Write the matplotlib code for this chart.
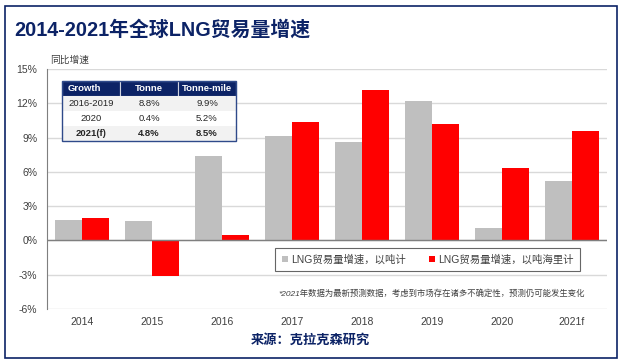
import matplotlib
matplotlib.use('Agg')
import matplotlib.pyplot as plt
import matplotlib.patches as mpatches
import numpy as np

plt.rcParams['font.family'] = ['Liberation Sans', 'Noto Sans CJK SC']

years = ['2014', '2015', '2016', '2017', '2018', '2019', '2020', '2021f']
tonne = [1.8, 1.7, 7.4, 9.1, 8.6, 12.2, 1.05, 5.2]
tonne_mile = [2.0, -3.1, 0.5, 10.4, 13.2, 10.2, 6.3, 9.6]
yticks = [-6, -3, 0, 3, 6, 9, 12, 15]

table_cols = ['Growth', 'Tonne', 'Tonne-mile']
table_rows = [['2016-2019', '8.8%', '9.9%'],
              ['2020', '0.4%', '5.2%'],
              ['2021(f)', '4.8%', '8.5%']]

navy = '#0c2366'
gray = '#bfbfbf'
red = '#ff0000'

W, H = 624, 363
fig = plt.figure(figsize=(W / 100, H / 100), dpi=100)
fig.patch.set_facecolor('white')

# outer frame
fig.add_artist(mpatches.Rectangle((5 / W, 5 / H), 612 / W, 352 / H, transform=fig.transFigure,
                                  fill=False, edgecolor=navy, linewidth=1.2))

fig.text(14 / W, 1 - 30 / H, '2014-2021年全球LNG贸易量增速', fontsize=14.3, fontweight='bold',
         color=navy, va='center', ha='left')

ax = fig.add_axes([47 / W, 1 - 309 / H, 560 / W, 240 / H])
x = np.arange(len(years))
w = 0.385
ax.bar(x - w / 2, tonne, w, color=gray, zorder=2, label='LNG贸易量增速，以吨计')
ax.bar(x + w / 2, tonne_mile, w, color=red, zorder=2, label='LNG贸易量增速，以吨海里计')
ax.set_xlim(-0.5, len(years) - 0.5)
ax.set_ylim(-6, 15)
ax.set_yticks(yticks)
ax.set_yticklabels([f'{v}%' for v in yticks], fontsize=7.5, color='#404040')
ax.set_xticks(x)
ax.set_xticklabels(years, fontsize=7.5, color='#404040')
ax.tick_params(length=0, pad=7)
ax.tick_params(axis='x', pad=6)
ax.grid(axis='y', color='#d9d9d9', linewidth=1, zorder=0)
for s in ['top', 'right', 'bottom']:
    ax.spines[s].set_visible(False)
ax.spines['left'].set_color('#7f7f7f')
ax.axhline(0, color='#7f7f7f', linewidth=1, zorder=3)

ax.text(50 / W, 1 - 60 / H, '同比增速', transform=fig.transFigure, fontsize=7, color='#404040',
        va='center', ha='left')

leg = ax.legend(loc='center', bbox_to_anchor=((283 + 572) / 2 / W, 1 - 259.5 / H),
                bbox_transform=fig.transFigure, ncol=2, fontsize=7.5, frameon=True, fancybox=False,
                handlelength=0.6, handleheight=0.6, handletextpad=0.3, columnspacing=2.2,
                borderpad=0.6)
leg.get_frame().set_edgecolor('#404040')
leg.get_frame().set_linewidth(0.8)
for t in leg.get_texts():
    t.set_color('#404040')

fig.text(585 / W, 1 - 294 / H, '*2021年数据为最新预测数据，考虑到市场存在诸多不确定性，预测仍可能发生变化',
         fontsize=6, style='italic', color='#404040', ha='right', va='center')

fig.text(310 / W, 1 - 340 / H, '来源：克拉克森研究', fontsize=9.5, fontweight='bold', color=navy,
         ha='center', va='center')

# inset table
tax = fig.add_axes([62 / W, 1 - 141 / H, 174 / W, 60 / H])
tax.axis('off')
tbl = tax.table(cellText=table_rows, colLabels=table_cols, bbox=[0, 0, 1, 1], cellLoc='center')
tbl.auto_set_font_size(False)
for (r, c), cell in tbl.get_celld().items():
    cell.set_linewidth(0)
    cell.set_text_props(fontsize=6.8, color='#262626')
    if r == 0:
        cell.set_facecolor(navy)
        cell.set_edgecolor('#d0d4e0')
        cell.set_linewidth(0.8)
        cell.set_text_props(color='white', fontweight='bold')
        if c == 0:
            cell.get_text().set_ha('left')
            cell._loc = 'left'
    else:
        cell.set_facecolor('#f2f2f2' if r % 2 == 1 else 'white')
        if r == 3:
            cell.set_text_props(fontweight='bold')
tax.add_patch(mpatches.Rectangle((0, 0), 1, 1, transform=tax.transAxes, fill=False,
                                 edgecolor='#2f4a8a', linewidth=1, zorder=5, clip_on=False))

fig.savefig('out.png', dpi=100, facecolor='white')
